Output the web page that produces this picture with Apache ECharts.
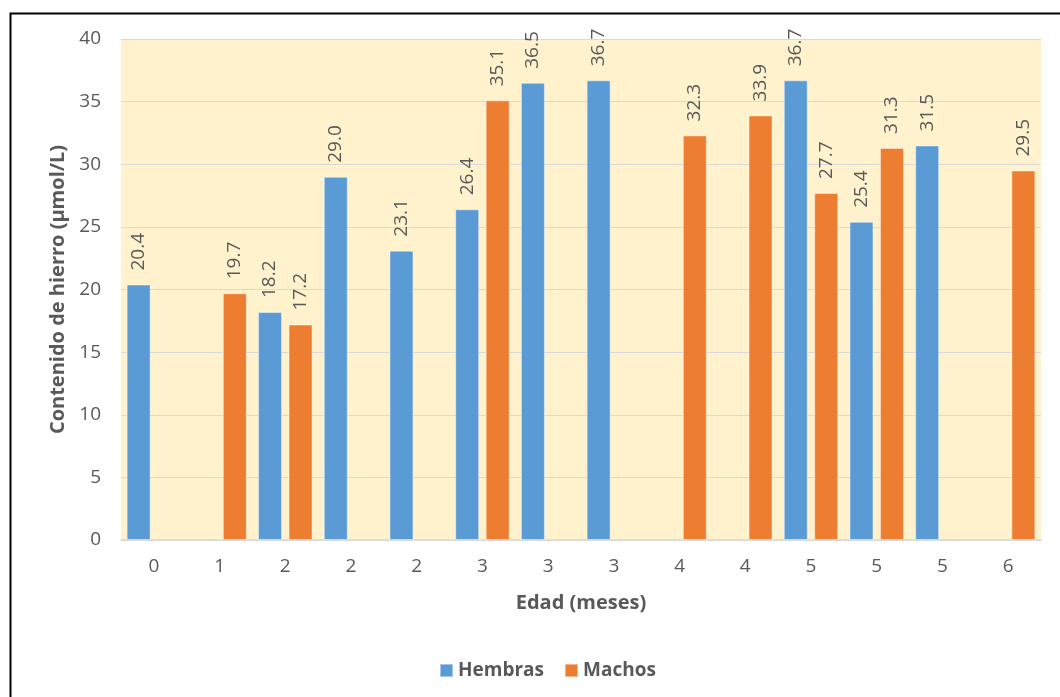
<!DOCTYPE html>
<html>
<head>
<meta charset="utf-8">
<script src="https://cdn.jsdelivr.net/npm/echarts@6/dist/echarts.min.js"></script>
<style>
  html, body { margin: 0; padding: 0; background: #ffffff; }
  #chart { width: 1060px; height: 697px; }
</style>
</head>
<body>
<div id="chart"></div>
<script>
// Edad (meses) de cada animal muestreado
const edades = ['0', '1', '2', '2', '2', '3', '3', '3', '4', '4', '5', '5', '5', '6'];
// Contenido de hierro (µmol/L); null = sin dato para ese sexo
const hembras = [20.4, null, 18.2, 29.0, 23.1, 26.4, 36.5, 36.7, null, null, 36.7, 25.4, 31.5, null];
const machos  = [null, 19.7, 17.2, null, null, 35.1, null, null, 32.3, 33.9, 27.7, 31.3, null, 29.5];

const FONT = '"Open Sans", "Noto Sans", "DejaVu Sans", sans-serif';
const categoryIds = edades.map((_, i) => 'c' + i);

const valueLabel = {
  show: true,
  position: 'top',
  rotate: 90,
  align: 'left',
  verticalAlign: 'middle',
  distance: 14,
  color: '#595959',
  fontSize: 19,
  fontFamily: FONT,
  formatter: p => (p.value == null ? '' : p.value.toFixed(1))
};

const chart = echarts.init(document.getElementById('chart'), null, { renderer: 'canvas' });
chart.setOption({
  backgroundColor: '#ffffff',
  animation: false,
  textStyle: { fontFamily: FONT },
  graphic: [{
    type: 'rect',
    left: 8, top: 11,
    shape: { width: 1070, height: 700 },
    style: { fill: 'none', stroke: '#000000', lineWidth: 2 },
    z: 100
  }],
  grid: { left: 121, right: 19, top: 39, bottom: 157, containLabel: false,
          show: true, backgroundColor: '#FFF2CC', borderWidth: 0 },
  legend: {
    top: 656,
    left: 434,
    itemWidth: 13, itemHeight: 13, itemGap: 20,
    icon: 'rect',
    textStyle: { color: '#595959', fontSize: 19, fontWeight: 'bold', fontFamily: FONT },
    data: ['Hembras', 'Machos']
  },
  xAxis: {
    type: 'category',
    data: categoryIds,
    name: 'Edad (meses)',
    nameLocation: 'middle',
    nameGap: 53,
    nameTextStyle: { color: '#595959', fontSize: 20, fontWeight: 'bold', fontFamily: FONT },
    axisLine: { lineStyle: { color: '#D9D9D9', width: 1.5 } },
    axisTick: { show: false },
    axisLabel: {
      color: '#595959', fontSize: 19, margin: 17, fontFamily: FONT,
      formatter: (v, i) => edades[i]
    }
  },
  yAxis: {
    type: 'value',
    min: 0, max: 40, interval: 5,
    name: 'Contenido de hierro (µmol/L)',
    nameLocation: 'middle',
    nameRotate: 90,
    nameGap: 53,
    nameTextStyle: { color: '#595959', fontSize: 20, fontWeight: 'bold', fontFamily: FONT },
    axisLine: { show: false },
    axisTick: { show: false },
    axisLabel: { color: '#595959', fontSize: 19, margin: 20, fontFamily: FONT },
    splitLine: { lineStyle: { color: '#D9D9D9', width: 1 } }
  },
  series: [
    {
      name: 'Hembras', type: 'bar', data: hembras,
      barWidth: 24, barGap: '27%',
      itemStyle: { color: '#5B9BD5', borderColor: 'rgba(255,255,255,0.45)', borderWidth: 1 },
      label: valueLabel
    },
    {
      name: 'Machos', type: 'bar', data: machos,
      barWidth: 24,
      itemStyle: { color: '#ED7D31', borderColor: 'rgba(255,255,255,0.45)', borderWidth: 1 },
      label: valueLabel
    }
  ]
});
</script>
</body>
</html>
